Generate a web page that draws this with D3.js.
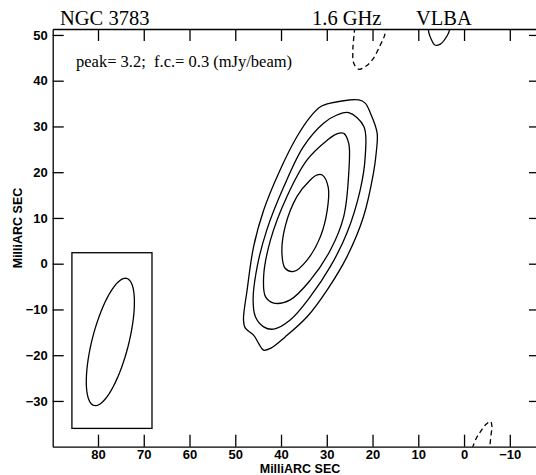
<!DOCTYPE html>
<html><head><meta charset="utf-8">
<script src="https://cdn.jsdelivr.net/npm/d3@7"></script>
<style>
body{margin:0;background:#fff}
svg{display:block}
.tick text{font-family:"Liberation Sans",Arial,sans-serif;font-weight:bold;font-size:13px;fill:#000}
.ttl{font-family:"Liberation Serif","Times New Roman",serif;fill:#000}
.axt{font-family:"Liberation Sans",Arial,sans-serif;font-weight:bold;font-size:12.5px;fill:#000}
</style>
</head><body>
<svg id="chart" width="536" height="475"></svg>
<script>
// Axis ticks (relative RA and Dec, milliarcseconds)
const xTicks = [80, 70, 60, 50, 40, 30, 20, 10, 0, -10];
const yTicks = [50, 40, 30, 20, 10, 0, -10, -20, -30];
const xDomain = [89.9, -16.6];
const yDomain = [-40, 51.3];

// Positive contour rings, outer to inner, as [RA offset, Dec offset] in mas
const contour1 = [[23.0,35.8],[21.6,35.1],[20.5,33.0],[19.0,28.6],[19.2,24.2],[19.8,19.8],[22.0,10.2],[25.6,1.5],[29.9,-5.7],[34.3,-11.6],[39.1,-16.0],[42.3,-18.5],[43.8,-18.9],[44.9,-17.4],[46.0,-15.6],[47.8,-14.1],[48.2,-12.3],[47.4,-5.7],[46.0,3.7],[43.8,11.7],[40.2,20.5],[36.5,27.8],[33.6,32.1],[31.4,34.3],[29.2,35.1]];
const contour2 = [[27.8,32.5],[25.2,33.0],[21.9,30.0],[21.6,23.4],[22.7,16.1],[25.6,6.7],[29.2,-0.6],[33.6,-7.2],[38.0,-12.3],[41.6,-14.3],[43.8,-13.8],[45.6,-11.6],[46.1,-7.9],[45.2,-0.6],[43.1,7.4],[39.4,16.8],[35.1,25.6],[30.7,30.7]];
const contour3 = [[27.8,28.4],[26.3,28.5],[25.2,26.3],[25.2,19.8],[26.3,10.3],[29.2,3.0],[33.6,-3.6],[38.0,-7.9],[41.6,-8.6],[43.4,-7.2],[43.8,-2.8],[42.3,5.2],[38.7,14.7],[34.3,22.7],[29.9,27.0]];
const contour4 = [[32.1,19.4],[31.0,19.4],[29.7,16.8],[29.9,11.7],[31.4,5.9],[34.3,0.8],[37.2,-1.7],[39.1,-1.0],[39.8,2.3],[39.1,8.1],[36.5,14.7],[33.6,18.3]];

// Open contour pieces cut by the map edge
const negTop = [[23.9,51.6],[24.0,50.4],[24.3,46.7],[24.1,43.8],[23.0,42.5],[21.4,43.2],[19.8,44.9],[18.3,47.8],[17.4,49.8],[17.0,51.6]];
const posTop = [[7.8,51.6],[7.7,50.5],[7.1,48.9],[6.4,47.8],[5.2,48.0],[3.6,50.0],[3.0,51.6]];
const negBottom = [[-1.8,-40.3],[-2.7,-38.1],[-3.6,-36.7],[-4.7,-35.2],[-5.8,-34.5],[-6.1,-35.6],[-5.9,-37.4],[-5.6,-40.3]];

// Restoring beam (mas, degrees) and the box drawn around it
const beamCenter = [77.3, -17.1];
const beamAxes = [14.34, 3.99];   // semi-major, semi-minor
const beamTilt = 14.4;
const beamBox = [[85.7, 2.4], [68.2, -36.0]];

const m = {left: 52.7, top: 29, right: 540, bottom: 446.7};

const svg = d3.select("#chart");
const x = d3.scaleLinear().domain(xDomain).range([m.left, m.right]);
const y = d3.scaleLinear().domain(yDomain).range([m.bottom, m.top]);

svg.append("clipPath").attr("id", "plotClip")
  .append("rect").attr("x", m.left).attr("y", m.top)
  .attr("width", m.right - m.left).attr("height", m.bottom - m.top);

// Frame with inward ticks on all four sides
svg.append("g").attr("transform", `translate(0,${m.bottom})`)
  .call(d3.axisBottom(x).tickValues(xTicks).tickSize(-12).tickSizeOuter(0).tickPadding(3).tickFormat(d3.format("d")));
svg.append("g").attr("transform", `translate(0,${m.top})`)
  .call(d3.axisTop(x).tickValues(xTicks).tickSize(-12).tickSizeOuter(0).tickFormat(""));
svg.append("g").attr("transform", `translate(${m.left},0)`)
  .call(d3.axisLeft(y).tickValues(yTicks).tickSize(-11).tickSizeOuter(0).tickPadding(5).tickFormat(d3.format("d")));
svg.append("g").attr("transform", `translate(${m.right},0)`)
  .call(d3.axisRight(y).tickValues(yTicks).tickSize(-11).tickSizeOuter(0).tickFormat(""));
svg.selectAll(".domain, .tick line").attr("stroke", "#000").attr("stroke-width", 1.3);
svg.selectAll(".tick text").attr("font-family", null).attr("font-size", null);

// Axis titles
svg.append("text").attr("class", "axt")
  .attr("x", 300).attr("y", 472.5)
  .attr("text-anchor", "middle")
  .text("MilliARC SEC");
svg.append("text").attr("class", "axt")
  .attr("transform", "translate(22,228) rotate(-90)")
  .attr("text-anchor", "middle")
  .text("MilliARC SEC");

// Header
svg.append("text").attr("class", "ttl").attr("x", 60).attr("y", 25).style("font-size", "20.5px").text("NGC 3783");
svg.append("text").attr("class", "ttl").attr("x", 312).attr("y", 25).style("font-size", "20.5px").text("1.6 GHz");
svg.append("text").attr("class", "ttl").attr("x", 416).attr("y", 25).style("font-size", "20.5px").text("VLBA");
svg.append("text").attr("class", "ttl").attr("x", 76).attr("y", 67)
  .style("font-size", "16.5px").style("white-space", "pre")
  .text("peak= 3.2;  f.c.= 0.3 (mJy/beam)");

// Contours
const plot = svg.append("g").attr("clip-path", "url(#plotClip)");
const closed = d3.line().x(d => x(d[0])).y(d => y(d[1])).curve(d3.curveCatmullRomClosed.alpha(0.5));
const open = d3.line().x(d => x(d[0])).y(d => y(d[1])).curve(d3.curveCatmullRom.alpha(0.5));

[contour1, contour2, contour3, contour4].forEach(c => {
  plot.append("path").attr("d", closed(c))
    .attr("fill", "none").attr("stroke", "#000").attr("stroke-width", 1.3);
});
plot.append("path").attr("d", open(posTop))
  .attr("fill", "none").attr("stroke", "#000").attr("stroke-width", 1.3);
[negTop, negBottom].forEach(c => {
  plot.append("path").attr("d", open(c))
    .attr("fill", "none").attr("stroke", "#000").attr("stroke-width", 1.3)
    .attr("stroke-dasharray", "5,3.5");
});

// Beam box and beam ellipse
plot.append("rect")
  .attr("x", x(beamBox[0][0])).attr("y", y(beamBox[0][1]))
  .attr("width", x(beamBox[1][0]) - x(beamBox[0][0]))
  .attr("height", y(beamBox[1][1]) - y(beamBox[0][1]))
  .attr("fill", "none").attr("stroke", "#000").attr("stroke-width", 1.3);

const th = beamTilt * Math.PI / 180;
const beamPts = d3.range(0, 72).map(i => {
  const t = i / 72 * 2 * Math.PI;
  const a = beamAxes[0] * Math.sin(t), b = beamAxes[1] * Math.cos(t);
  const east = -(a * Math.sin(th) + b * Math.cos(th));
  const north = a * Math.cos(th) - b * Math.sin(th);
  return [beamCenter[0] + east, beamCenter[1] + north];
});
plot.append("path").attr("d", d3.line().x(d => x(d[0])).y(d => y(d[1])).curve(d3.curveLinearClosed)(beamPts))
  .attr("fill", "none").attr("stroke", "#000").attr("stroke-width", 1.3);
</script>
</body></html>
